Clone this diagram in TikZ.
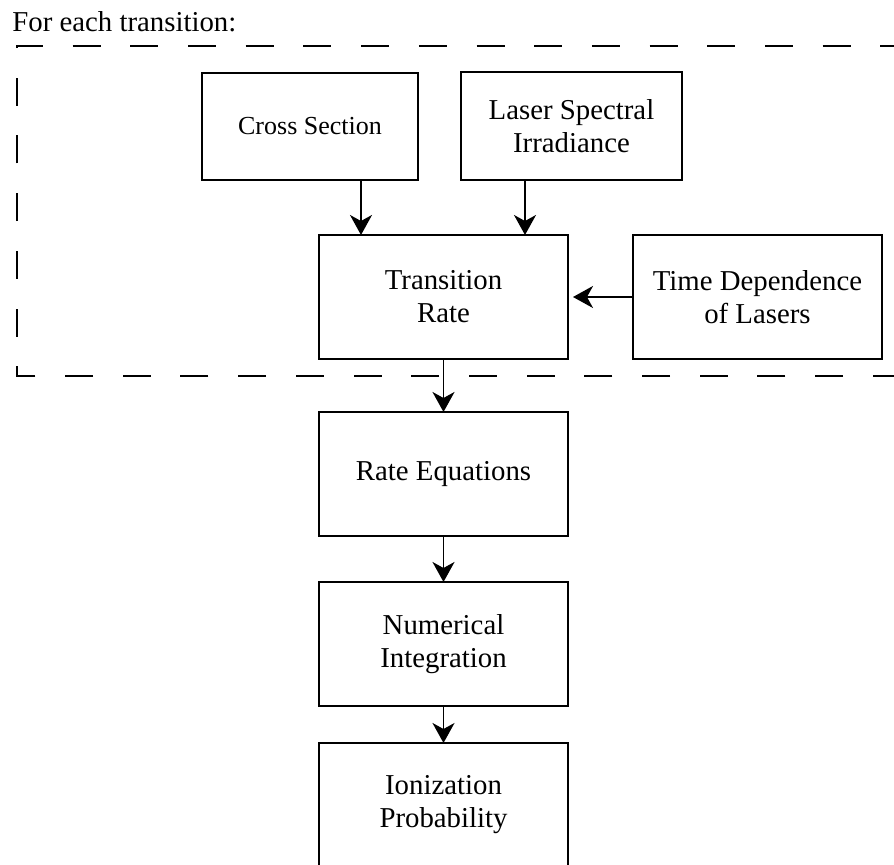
\documentclass[tikz,border=0pt]{standalone}
\usepackage{fontspec}
\setmainfont{Liberation Serif}
\usepackage{tikz}
\usetikzlibrary{arrows.meta, positioning}

\begin{document}
\begin{tikzpicture}[
    x=0.5pt, y=-0.5pt,
    node distance=25pt and 32.5pt,
    every node/.style={font=\fontsize{14.4}{16.5}\selectfont},
    block/.style={rectangle, draw, line width=0.9pt, align=center,
                  inner sep=0pt, outer sep=0pt,
                  minimum width=124.5pt, minimum height=62pt},
    arrow/.style={-{Stealth[length=10pt, width=11pt, inset=3pt]}, line width=0.9pt},
    frame/.style={line width=0.8pt, dash pattern=on 14pt off 14.85pt}
]
    \useasboundingbox (0,0) rectangle (894,865);

    \node[anchor=base west, inner sep=0pt] (title) at (12,32) {For each transition:};

    % inputs for one transition
    \node[block, minimum width=108pt, minimum height=53.5pt,
          font=\fontsize{13}{16}\selectfont] (cross) at (310,126.5) {Cross Section};
    \node[block, minimum width=110.5pt, minimum height=54pt] (laser) at (571.5,126) {Laser Spectral\\Irradiance};
    \node[block] (rate) at (443.5,297) {Transition\\Rate};
    \node[block, right=of rate] (timedep) {Time Dependence\\of Lasers};

    % solving chain
    \node[block, below=26.5pt of rate] (rateeq) {Rate Equations};
    \node[block, below=23pt of rateeq] (numint) {Numerical\\Integration};
    \node[block, below=18.5pt of numint] (ionprob) {Ionization\\Probability};

    \coordinate (fnw) at (17,46);
    \coordinate (fne) at (915,46);
    \coordinate (fse) at (915,376);
    \draw[frame, dash phase=21.75pt] (fse) -| (fnw) -- (fne);

    \draw[arrow] ([xshift=25.5pt]cross.south) -- ([xshift=25.5pt]cross.south |- rate.north);
    \draw[arrow] ([xshift=-23.25pt]laser.south) -- ([xshift=-23.25pt]laser.south |- rate.north);
    \draw[arrow, shorten >=2.5pt] (timedep.west) -- (rate.east);
    \draw[arrow] (rate) -- (rateeq);
    \draw[arrow] (rateeq) -- (numint);
    \draw[arrow] (numint) -- (ionprob);
\end{tikzpicture}
\end{document}
